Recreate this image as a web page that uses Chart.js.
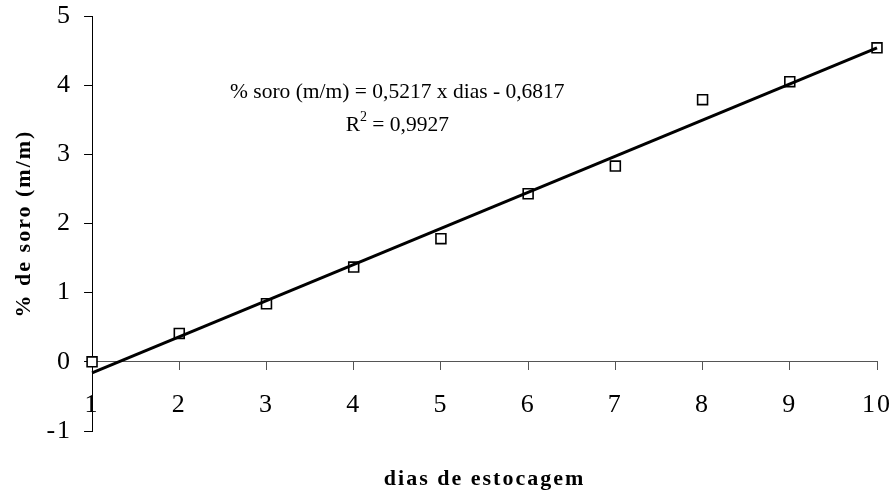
<!DOCTYPE html>
<html>
<head>
<meta charset="utf-8">
<script src="https://cdn.jsdelivr.net/npm/chart.js@4"></script>
<style>
  html, body { margin: 0; padding: 0; background: #fff; }
  #wrap { width: 894px; height: 493px; }
</style>
</head>
<body>
<div id="wrap"><canvas id="soroChart" width="894" height="493"></canvas></div>
<script>
// dias de estocagem vs % de soro
const dias = [1, 2, 3, 4, 5, 6, 7, 8, 9, 10];
const soro = [0, 0.41, 0.84, 1.37, 1.78, 2.43, 2.83, 3.79, 4.05, 4.54];
// linha de tendência (pontos extremos)
const trendX = [1, 10];
const trendY = [-0.16, 4.54];
const yTicks = [-1, 0, 1, 2, 3, 4, 5];
const eqText = '% soro (m/m) = 0,5217 x dias - 0,6817';
const r2Value = ' = 0,9927';

const SERIF = "'Liberation Serif', 'Times New Roman', serif";

// espaçamento entre letras dos textos dos eixos
const spacing = {
    id: 'spacing',
    beforeDraw(chart) { chart.ctx.letterSpacing = '2px'; },
    afterDraw(chart) { chart.ctx.letterSpacing = '0px'; }
};

const equationLabel = {
    id: 'equationLabel',
    afterDatasetsDraw(chart) {
        const { ctx, scales: { x, y } } = chart;
        const cx = x.getPixelForValue(4.5);
        ctx.save();
        ctx.letterSpacing = '0px';
        ctx.fillStyle = '#000';
        ctx.textBaseline = 'middle';
        ctx.textAlign = 'center';
        ctx.font = '21.5px ' + SERIF;
        ctx.fillText(eqText, cx, y.getPixelForValue(3.9));

        // R² com expoente
        const ry = y.getPixelForValue(3.42);
        const wR = ctx.measureText('R').width;
        const wRest = ctx.measureText(r2Value).width;
        ctx.font = '14px ' + SERIF;
        const wSup = ctx.measureText('2').width;
        const start = cx - (wR + wSup + wRest) / 2;
        ctx.textAlign = 'left';
        ctx.font = '21.5px ' + SERIF;
        ctx.fillText('R', start, ry);
        ctx.font = '14px ' + SERIF;
        ctx.fillText('2', start + wR, ry - 8);
        ctx.font = '21.5px ' + SERIF;
        ctx.fillText(r2Value, start + wR + wSup, ry);
        ctx.restore();
    }
};

new Chart(document.getElementById('soroChart'), {
    type: 'scatter',
    data: {
        datasets: [{
            type: 'line',
            label: 'tendência',
            data: trendX.map((v, i) => ({ x: v, y: trendY[i] })),
            borderColor: '#000',
            borderWidth: 3,
            pointRadius: 0,
            fill: false,
            order: 0,
            clip: false
        }, {
            label: '% de soro',
            data: dias.map((d, i) => ({ x: d, y: soro[i] })),
            pointStyle: 'rect',
            pointRadius: 7,
            pointBackgroundColor: '#fff',
            pointBorderColor: '#000',
            pointBorderWidth: 1.6,
            order: 1,
            clip: false
        }]
    },
    options: {
        responsive: false,
        animation: false,
        layout: { padding: { top: 16, right: 17, bottom: 62, left: 11 } },
        plugins: {
            legend: { display: false },
            tooltip: { enabled: false }
        },
        scales: {
            x: {
                type: 'linear',
                position: { y: 0 },
                min: 1,
                max: 10,
                afterFit: (scale) => { scale.paddingLeft = 0; scale.paddingRight = 0; },
                ticks: {
                    stepSize: 1,
                    color: '#000',
                    padding: 20,
                    font: { family: SERIF, size: 26 }
                },
                grid: { drawOnChartArea: false, tickLength: 8, color: '#555' },
                border: { color: '#555', width: 1 },
                title: {
                    display: true,
                    text: 'dias de estocagem',
                    color: '#000',
                    padding: { top: 25, bottom: 0 },
                    font: { family: SERIF, size: 22, weight: 'bold' }
                }
            },
            y: {
                min: -1,
                max: 5,
                afterBuildTicks: (scale) => { scale.ticks = yTicks.map(v => ({ value: v })); },
                afterFit: (scale) => { scale.paddingTop = 0; scale.paddingBottom = 0; },
                ticks: {
                    color: '#000',
                    padding: 12,
                    font: { family: SERIF, size: 26 }
                },
                grid: { drawOnChartArea: false, tickLength: 8, color: '#000' },
                border: { color: '#000', width: 1 },
                title: {
                    display: true,
                    text: '% de soro (m/m)',
                    color: '#000',
                    padding: { top: 0, bottom: 1 },
                    font: { family: SERIF, size: 22, weight: 'bold' }
                }
            }
        }
    },
    plugins: [spacing, equationLabel]
});
</script>
</body>
</html>
